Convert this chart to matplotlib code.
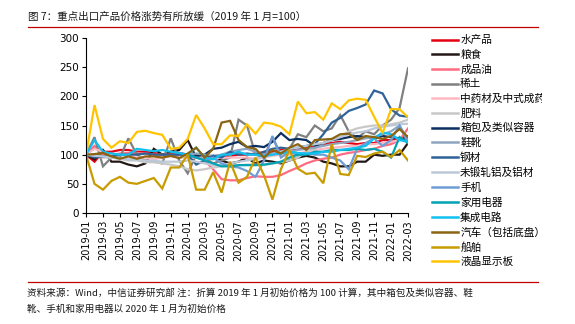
import numpy as np
import matplotlib.pyplot as plt
from matplotlib.lines import Line2D
from matplotlib.transforms import Bbox

plt.rcParams['font.family'] = ['Noto Sans CJK SC', 'DejaVu Sans']

# %% dados (2019-01 .. 2022-03, base 100)
meses = [f'{a}-{m:02d}' for a in (2019, 2020, 2021, 2022) for m in range(1, 13)][:39]
nan = np.nan
vazio = [nan] * 12

shuichanpin = [100, 88, 105, 105, 108, 108, 105, 105, 103, 100, 103, 103,
               100, 97, 98, 97, 97, 98, 100, 100, 102, 104, 105, 108,
               110, 110, 112, 115, 118, 120, 122, 120, 118, 120, 120, 125,
               125, 128, 132]
liangshi = [100, 92, 108, 88, 88, 83, 80, 85, 110, 100, 105, 108,
            125, 95, 93, 98, 90, 85, 88, 95, 85, 90, 88, 85,
            90, 95, 98, 95, 88, 85, 80, 80, 88, 88, 100, 98,
            100, 100, 120]
chengpinyou = [100, 115, 100, 100, 102, 103, 103, 102, 100, 100, 100, 100,
               100, 98, 90, 75, 58, 56, 56, 60, 63, 62, 62, 65,
               72, 78, 85, 90, 93, 95, 100, 103, 105, 108, 110, 115,
               118, 125, 145]
xitu = [100, 130, 80, 95, 95, 128, 100, 90, 88, 85, 128, 90,
        68, 100, 95, 85, 90, 95, 160, 150, 100, 95, 130, 100,
        110, 135, 130, 150, 140, 145, 168, 140, 128, 140, 135, 150,
        160, 180, 248]
zhongyao = [100, 110, 105, 100, 100, 98, 95, 95, 92, 95, 97, 95,
            95, 95, 95, 93, 95, 95, 95, 95, 93, 95, 98, 100,
            100, 102, 105, 108, 110, 112, 113, 115, 115, 118, 118, 120,
            122, 125, 128]
feiliao = [100, 98, 95, 95, 93, 90, 90, 87, 87, 85, 83, 80,
           75, 73, 75, 78, 80, 82, 82, 83, 83, 82, 85, 87,
           90, 95, 105, 110, 120, 125, 130, 140, 145, 148, 150, 150,
           152, 155, 160]
xiangbao = vazio + [100, 98, 100, 110, 112, 118, 122, 113, 115, 113, 122, 137,
                    125, 127, 125, 115, 120, 125, 127, 130, 132, 130, 128, 132,
                    130, 128, 125]
xiexue = vazio + [100, 102, 100, 98, 100, 105, 108, 110, 105, 100, 102, 105,
                  105, 108, 110, 112, 115, 118, 120, 122, 125, 128, 130, 135,
                  140, 150, 125]
gangcai = [100, 95, 97, 97, 100, 100, 100, 102, 100, 100, 100, 100,
           100, 83, 90, 98, 95, 105, 100, 102, 100, 105, 110, 112,
           110, 112, 115, 118, 135, 155, 163, 175, 180, 186, 210, 205,
           178, 167, 165]
lvcai = [100, 98, 97, 95, 93, 92, 92, 90, 90, 88, 88, 88,
         90, 88, 85, 82, 82, 85, 88, 90, 93, 95, 100, 105,
         110, 112, 115, 118, 120, 125, 130, 135, 138, 140, 145, 148,
         150, 152, 153]
shouji = vazio + [100, 95, 92, 95, 85, 80, 78, 72, 62, 90, 132, 95,
                  105, 100, 102, 100, 100, 95, 90, 75, 110, 120, 128, 115,
                  125, 150, 120]
jiadian = vazio + [100, 95, 90, 85, 80, 80, 82, 82, 82, 83, 85, 88,
                   95, 100, 100, 105, 105, 108, 108, 108, 110, 108, 110, 105,
                   95, 130, 120]
jicheng = [100, 125, 105, 102, 100, 100, 110, 108, 106, 108, 105, 103,
           100, 112, 95, 92, 100, 100, 105, 100, 100, 98, 100, 102,
           105, 103, 102, 102, 105, 105, 108, 110, 112, 115, 128, 138,
           135, 125, 122]
qiche = [100, 101, 103, 97, 93, 97, 93, 97, 97, 95, 98, 94,
         102, 112, 95, 110, 155, 158, 125, 113, 110, 95, 108, 102,
         112, 118, 108, 125, 126, 127, 135, 136, 125, 132, 130, 127,
         132, 144, 130]
chuanbo = [100, 50, 40, 55, 62, 52, 50, 55, 60, 42, 78, 78,
           100, 40, 40, 70, 35, 88, 52, 62, 95, 65, 23, 75,
           108, 76, 67, 69, 51, 118, 67, 65, 98, 96, 102, 105,
           96, 108, 90]
yejing = [100, 185, 127, 112, 123, 120, 139, 141, 137, 134, 110, 112,
          127, 168, 145, 118, 118, 133, 132, 152, 136, 155, 153, 148,
          135, 191, 171, 173, 160, 188, 178, 193, 196, 194, 165, 137,
          178, 178, 164]

series = [
    ('水产品', shuichanpin, '#E60012'),
    ('粮食', liangshi, '#231815'),
    ('成品油', chengpinyou, '#FF6B80'),
    ('稀土', xitu, '#808080'),
    ('中药材及中式成药', zhongyao, '#FFB8C2'),
    ('肥料', feiliao, '#C8C8C8'),
    ('箱包及类似容器', xiangbao, '#0B2F5E'),
    ('鞋靴', xiexue, '#8EA4C0'),
    ('钢材', gangcai, '#2F6296'),
    ('未锻轧铝及铝材', lvcai, '#BCC8D8'),
    ('手机', shouji, '#6F9DD3'),
    ('家用电器', jiadian, '#00A3B4'),
    ('集成电路', jicheng, '#10C0F0'),
    ('汽车（包括底盘）', qiche, '#8B6412'),
    ('船舶', chuanbo, '#C89B00'),
    ('液晶显示板', yejing, '#FFC400'),
]

# %% figura
fig = plt.figure(figsize=(5.75, 3.24), dpi=100)
ax = fig.add_axes([0.1496, 0.3426, 0.56, 0.5401])

x = np.arange(len(meses))
for nome, valores, cor in series:
    ax.plot(x, valores, color=cor, lw=1.6, solid_joinstyle='miter')

ax.set_xlim(0, len(meses) - 1)
ax.set_ylim(0, 300)
ax.set_yticks(range(0, 301, 50))
ax.set_xticks(x[::2])
ax.set_xticklabels(meses[::2], rotation=90, fontsize=7, family='DejaVu Sans')
ax.tick_params(axis='y', labelsize=7.5, length=3, width=0.8, pad=2)
ax.tick_params(axis='x', length=3, width=0.8, pad=2)
for lab in ax.get_yticklabels():
    lab.set_family('DejaVu Sans')
for s in ('top', 'right'):
    ax.spines[s].set_visible(False)
for s in ('left', 'bottom'):
    ax.spines[s].set_linewidth(0.8)

# legenda (texto cortado na borda da caixa)
handles = [Line2D([0], [0], color=c, lw=1.8) for _, _, c in series]
leg = fig.legend(handles, [n for n, _, _ in series], loc='upper left',
                 bbox_to_anchor=(0.751, 0.891), frameon=False, fontsize=7.7,
                 handlelength=2.46, handletextpad=0.19, labelspacing=0.42,
                 borderaxespad=0, borderpad=0)
corte = Bbox([[0, 0], [542, 324]])
for t in leg.get_texts():
    t.set_clip_box(corte)
    t.set_clip_on(True)

# título e rodapé
fig.text(0.049, 0.948, '图 7：重点出口产品价格涨势有所放缓（2019 年 1 月=100）',
         fontsize=7.6, va='center', ha='left', color='#1a1a1a')
fig.add_artist(Line2D([0.049, 0.935], [0.917, 0.917], color='#C00000', lw=0.9))
fig.add_artist(Line2D([0.049, 0.935], [0.130, 0.130], color='#C00000', lw=0.9))
fig.text(0.047, 0.097, '资料来源：Wind，中信证券研究部 注：折算 2019 年 1 月初始价格为 100 计算，其中箱包及类似容器、鞋',
         fontsize=6.9, va='center', ha='left', color='#1a1a1a')
fig.text(0.047, 0.045, '靴、手机和家用电器以 2020 年 1 月为初始价格',
         fontsize=6.9, va='center', ha='left', color='#1a1a1a')

fig.savefig('out.png', dpi=100)
